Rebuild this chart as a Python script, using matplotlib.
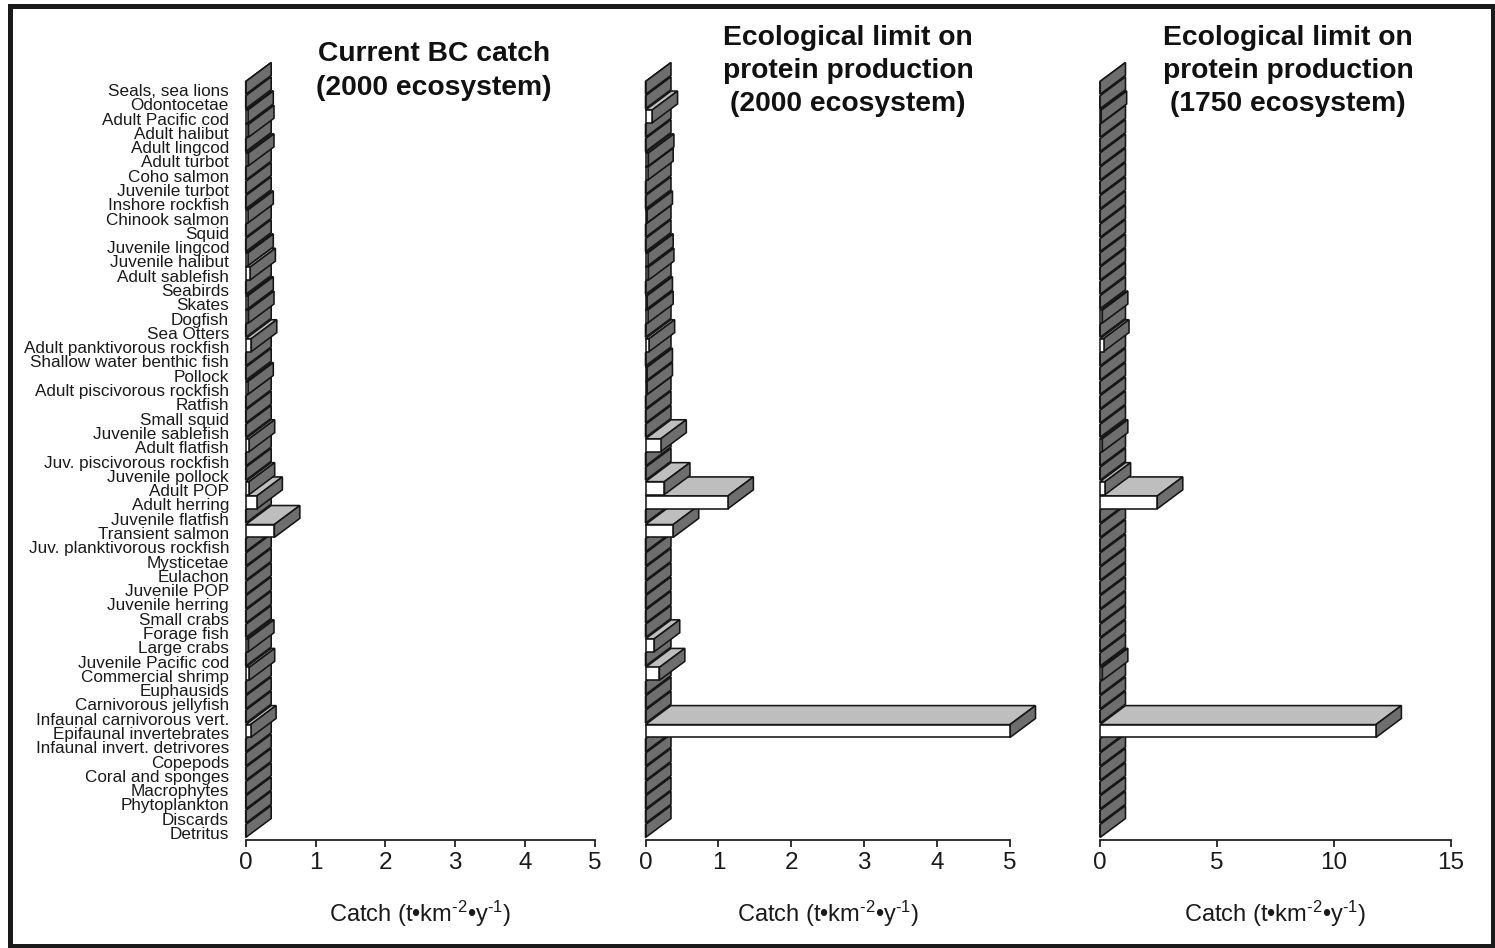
import numpy as np
import matplotlib
matplotlib.use('Agg')
import matplotlib.pyplot as plt
from matplotlib.patches import Polygon, Rectangle

plt.rcParams['font.family'] = ['Liberation Sans', 'DejaVu Sans']
plt.rcParams['mathtext.fontset'] = 'custom'
plt.rcParams['mathtext.rm'] = 'Liberation Sans'
plt.rcParams['mathtext.it'] = 'Liberation Sans:italic'
plt.rcParams['mathtext.bf'] = 'Liberation Sans:bold'
plt.rcParams['axes.unicode_minus'] = False

categories = [
    "Seals, sea lions", "Odontocetae", "Adult Pacific cod", "Adult halibut",
    "Adult lingcod", "Adult turbot", "Coho salmon", "Juvenile turbot",
    "Inshore rockfish", "Chinook salmon", "Squid", "Juvenile lingcod",
    "Juvenile halibut", "Adult sablefish", "Seabirds", "Skates", "Dogfish",
    "Sea Otters", "Adult panktivorous rockfish", "Shallow water benthic fish",
    "Pollock", "Adult piscivorous rockfish", "Ratfish", "Small squid",
    "Juvenile sablefish", "Adult flatfish", "Juv. piscivorous rockfish",
    "Juvenile pollock", "Adult POP", "Adult herring", "Juvenile flatfish",
    "Transient salmon", "Juv. planktivorous rockfish", "Mysticetae",
    "Eulachon", "Juvenile POP", "Juvenile herring", "Small crabs",
    "Forage fish", "Large crabs", "Juvenile Pacific cod", "Commercial shrimp",
    "Euphausids", "Carnivorous jellyfish", "Infaunal carnivorous vert.",
    "Epifaunal invertebrates", "Infaunal invert. detrivores", "Copepods",
    "Coral and sponges", "Macrophytes", "Phytoplankton", "Discards", "Detritus",
]

# Catch values (t km-2 y-1), in category order (top to bottom)
current_catch = [
    0.00, 0.00, 0.03, 0.04, 0.00, 0.04, 0.00, 0.00, 0.00, 0.03,
    0.00, 0.00, 0.03, 0.06, 0.00, 0.03, 0.04, 0.00, 0.08, 0.00,
    0.00, 0.03, 0.00, 0.00, 0.00, 0.05, 0.00, 0.00, 0.05, 0.16,
    0.00, 0.41, 0.00, 0.00, 0.00, 0.00, 0.00, 0.00, 0.00, 0.04,
    0.00, 0.05, 0.00, 0.00, 0.00, 0.07, 0.00, 0.00, 0.00, 0.00,
    0.00, 0.00, 0.00,
]
limit_2000 = [
    0.00, 0.00, 0.09, 0.00, 0.00, 0.04, 0.03, 0.00, 0.00, 0.02,
    0.00, 0.00, 0.03, 0.04, 0.00, 0.02, 0.03, 0.00, 0.05, 0.00,
    0.02, 0.02, 0.00, 0.00, 0.00, 0.21, 0.00, 0.00, 0.26, 1.13,
    0.00, 0.38, 0.00, 0.00, 0.00, 0.00, 0.00, 0.00, 0.00, 0.12,
    0.00, 0.19, 0.00, 0.00, 0.00, 5.00, 0.00, 0.00, 0.00, 0.00,
    0.00, 0.00, 0.00,
]
limit_1750 = [
    0.00, 0.00, 0.05, 0.00, 0.00, 0.00, 0.00, 0.00, 0.00, 0.00,
    0.00, 0.00, 0.00, 0.00, 0.00, 0.00, 0.10, 0.00, 0.15, 0.00,
    0.00, 0.00, 0.00, 0.00, 0.00, 0.10, 0.00, 0.00, 0.22, 2.45,
    0.00, 0.00, 0.00, 0.00, 0.00, 0.00, 0.00, 0.00, 0.00, 0.00,
    0.00, 0.10, 0.00, 0.00, 0.00, 11.80, 0.00, 0.00, 0.00, 0.00,
    0.00, 0.00, 0.00,
]

titles = [
    "Current BC catch\n(2000 ecosystem)",
    "Ecological limit on\nprotein production\n(2000 ecosystem)",
    "Ecological limit on\nprotein production\n(1750 ecosystem)",
]
x_ticks = [[0, 1, 2, 3, 4, 5], [0, 1, 2, 3, 4, 5], [0, 5, 10, 15]]
x_max = [5, 5, 15]
x_label = r"Catch (t•km$^{\text{-2}}$•y$^{\text{-1}}$)"

series = [current_catch, limit_2000, limit_1750]

W, H = 1495, 948
fig = plt.figure(figsize=(W / 100, H / 100), dpi=100)

axes_px = [(245.7, 595.0), (645.5, 1010.0), (1100.0, 1450.7)]
title_px = [(434, 71), (848, 71), (1288, 71)]
bottom_px, top_px = 839.5, 62.5

n = len(categories)
ypos = -np.arange(n)
bar_h = 0.9
bar_shift = 0.14
dy = 1.33
depth_px = 25.5

FRONT = "white"
TOP = "#bebebe"
SIDE = "#6e6e6e"
EDGE = "#151515"
LW = 1.15

for k in range(3):
    x0, x1 = axes_px[k]
    ax = fig.add_axes([x0 / W, 1 - bottom_px / H, (x1 - x0) / W, (bottom_px - top_px) / H])
    ax.set_facecolor("none")
    ax.set_xlim(0, x_max[k])
    ax.set_ylim(-(n - 1) - bar_h / 2, bar_h / 2 + dy + bar_shift)
    dx = depth_px * x_max[k] / (x1 - x0)
    vals = np.asarray(series[k], dtype=float)

    bars = ax.barh(ypos + bar_shift, vals, height=bar_h, color=FRONT,
                   edgecolor=EDGE, linewidth=LW)
    for i, (bar, v, y) in enumerate(zip(bars, vals, ypos + bar_shift)):
        zbase = 3 + (n - i) * 3
        bar.set_zorder(zbase + 2)
        bar.set_clip_on(False)
        yt = y + bar_h / 2
        yb = y - bar_h / 2
        top = Polygon([(0, yt), (v, yt), (v + dx, yt + dy), (dx, yt + dy)],
                      closed=True, facecolor=TOP, edgecolor=EDGE, linewidth=LW,
                      zorder=zbase, clip_on=False, joinstyle="miter")
        end = Polygon([(v, yb), (v, yt), (v + dx, yt + dy), (v + dx, yb + dy)],
                      closed=True, facecolor=SIDE, edgecolor=EDGE, linewidth=LW,
                      zorder=zbase + 1, clip_on=False, joinstyle="miter")
        ax.add_patch(top)
        ax.add_patch(end)

    for s in ["top", "right", "left"]:
        ax.spines[s].set_visible(False)
    ax.spines["bottom"].set_linewidth(1.3)
    ax.spines["bottom"].set_color("#222222")
    ax.set_xticks(x_ticks[k])
    ax.set_xticklabels([str(t) for t in x_ticks[k]])
    ax.tick_params(axis="x", direction="out", length=5, width=1.3, color="#222222",
                   labelsize=17.5, pad=4, labelcolor="#1a1a1a")
    if k == 0:
        ax.set_yticks(ypos)
        ax.set_yticklabels(categories)
        ax.tick_params(axis="y", length=0, pad=12, labelsize=12.3, labelcolor="#1a1a1a")
    else:
        ax.set_yticks([])

    ax.text(0.5, -0.1065, x_label, transform=ax.transAxes, ha="center", va="baseline",
            fontsize=17, color="#1a1a1a")

    tx, ty = title_px[k]
    fig.text(tx / W, 1 - ty / H, titles[k], ha="center", va="center",
             fontsize=20.3, fontweight="bold", linespacing=1.36, color="#111111")

frame = Rectangle((9.5 / W, 1 - 946 / H), (1493 - 9.5) / W, (946 - 5.5) / H,
                  transform=fig.transFigure, fill=False, linewidth=3.6,
                  edgecolor="#1a1a1a", zorder=100)
fig.patches.append(frame)

fig.savefig("out.png", dpi=100, facecolor="white")
